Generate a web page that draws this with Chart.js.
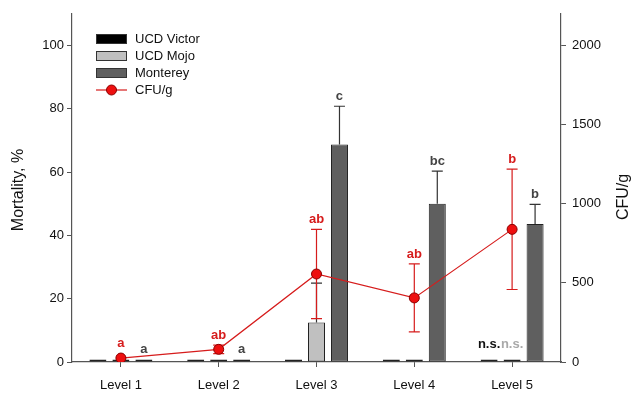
<!DOCTYPE html>
<html>
<head>
<meta charset="utf-8">
<script src="https://cdn.jsdelivr.net/npm/chart.js@4/dist/chart.umd.min.js"></script>
<style>
  html, body { margin: 0; padding: 0; background: #fff; }
  #wrap { width: 632px; height: 405px; }
</style>
</head>
<body>
<div id="wrap"><canvas id="c" width="632" height="405"></canvas></div>
<script>
// Mortality (%) per cultivar and CFU/g per inoculum level
const levels = ['Level 1', 'Level 2', 'Level 3', 'Level 4', 'Level 5'];
const victor = [0.8, 0.8, 0.8, 0.8, 0.8];
const victorErr = [0, 0, 0, 0, 0];
const mojo = [0.8, 0.8, 12.5, 0.8, 0.8];
const mojoErr = [0, 0, 12.4, 0, 0];
const monterey = [0.8, 0.8, 68.7, 50.0, 43.6];
const montereyErr = [0, 0, 12.1, 10.3, 6.2];
const cfu = [25, 80, 556, 405, 838];
const cfuErr = [0, 27, 282, 215, 380];

// significance letters
const cfuLetters = ['a', 'ab', 'ab', 'ab', 'b'];
const montereyLetters = ['a', 'a', 'c', 'bc', 'b'];
const victorLetters = ['', '', '', '', 'n.s.'];
const mojoLetters = ['', '', '', '', 'n.s.'];

const leftTicks = [0, 20, 40, 60, 80, 100];
const rightTicks = [0, 500, 1000, 1500, 2000];

const FONT = '"Liberation Sans", Arial, Helvetica, sans-serif';
const AXIS = '#555555';
const RED = '#d61c1c';

const seriesStyle = [
  { label: 'UCD Victor', fill: '#000000' },
  { label: 'UCD Mojo', fill: '#c0c0c0' },
  { label: 'Monterey', fill: '#5f5f5f' }
];

// vertical error bar from y0 to y1 (pixels) with a cap at y1
function errorBar(ctx, x, y0, y1, color, capHalf) {
  ctx.save();
  ctx.strokeStyle = color;
  ctx.lineWidth = 1.2;
  ctx.beginPath();
  ctx.moveTo(x, y0); ctx.lineTo(x, y1);
  ctx.moveTo(x - capHalf, y1); ctx.lineTo(x + capHalf, y1);
  ctx.stroke();
  ctx.restore();
}

const decorations = {
  id: 'decorations',
  afterDatasetDraw(chart, args) {
    const ctx = chart.ctx;
    const y = chart.scales.y;
    const i = args.index;
    if (i > 2) return;
    const vals = [victor, mojo, monterey][i];
    const errs = [victorErr, mojoErr, montereyErr][i];
    const meta = chart.getDatasetMeta(i);
    vals.forEach((v, j) => {
      if (errs[j] > 0) {
        errorBar(ctx, meta.data[j].x, y.getPixelForValue(v), y.getPixelForValue(v + errs[j]), '#333333', 5.5);
      }
    });
  },
  beforeDatasetDraw(chart, args) {
    if (args.index !== 3) return;
    const ctx = chart.ctx;
    const y1 = chart.scales.y1;
    const meta = chart.getDatasetMeta(3);
    cfu.forEach((v, j) => {
      if (cfuErr[j] > 0) {
        const x = meta.data[j].x;
        const mid = y1.getPixelForValue(v);
        errorBar(ctx, x, mid, y1.getPixelForValue(v + cfuErr[j]), RED, 5.5);
        errorBar(ctx, x, mid, y1.getPixelForValue(v - cfuErr[j]), RED, 5.5);
      }
    });
  },
  afterDraw(chart) {
    const ctx = chart.ctx;
    const y = chart.scales.y;
    const y1 = chart.scales.y1;
    ctx.save();
    ctx.textAlign = 'center';
    ctx.textBaseline = 'alphabetic';
    ctx.font = 'bold 13px ' + FONT;

    // letters over the CFU/g points
    const lineMeta = chart.getDatasetMeta(3);
    ctx.fillStyle = RED;
    cfuLetters.forEach((t, j) => {
      const x = lineMeta.data[j].x;
      const top = cfuErr[j] > 0 ? y1.getPixelForValue(cfu[j] + cfuErr[j]) : y1.getPixelForValue(cfu[j]) - 5;
      ctx.fillText(t, x, top - 6);
    });

    // letters over the bars
    const barLetters = [
      [victorLetters, victor, victorErr, '#111111', 0, 11],
      [mojoLetters, mojo, mojoErr, '#a9a9a9', 1, 11],
      [montereyLetters, monterey, montereyErr, '#444444', 2, 6]
    ];
    barLetters.forEach(([letters, vals, errs, color, di, gap]) => {
      const meta = chart.getDatasetMeta(di);
      ctx.fillStyle = color;
      letters.forEach((t, j) => {
        if (!t) return;
        const top = y.getPixelForValue(vals[j] + errs[j]);
        ctx.fillText(t, meta.data[j].x, top - gap);
      });
    });

    // axis titles
    ctx.font = '16px ' + FONT;
    ctx.fillStyle = '#111111';
    ctx.textBaseline = 'middle';
    ctx.save();
    ctx.translate(19, 190);
    ctx.rotate(-Math.PI / 2);
    ctx.fillText('Mortality, %', 0, 0);
    ctx.restore();
    ctx.save();
    ctx.translate(624, 197);
    ctx.rotate(-Math.PI / 2);
    ctx.fillText('CFU/g', 0, 0);
    ctx.restore();

    // legend
    ctx.font = '13px ' + FONT;
    ctx.textAlign = 'left';
    ctx.textBaseline = 'middle';
    const lx = 96, lw = 31, rows = [39, 56, 73, 90];
    seriesStyle.forEach((s, k) => {
      ctx.fillStyle = s.fill;
      ctx.fillRect(lx, rows[k] - 5, lw, 10);
      ctx.strokeStyle = '#333333';
      ctx.lineWidth = 1;
      ctx.strokeRect(lx + 0.5, rows[k] - 4.5, lw - 1, 9);
      ctx.fillStyle = '#111111';
      ctx.fillText(s.label, 135, rows[k]);
    });
    ctx.strokeStyle = RED;
    ctx.lineWidth = 1.2;
    ctx.beginPath();
    ctx.moveTo(lx, rows[3]); ctx.lineTo(lx + lw, rows[3]);
    ctx.stroke();
    ctx.beginPath();
    ctx.arc(lx + lw / 2, rows[3], 5, 0, Math.PI * 2);
    ctx.fillStyle = '#ee0f0f';
    ctx.fill();
    ctx.strokeStyle = '#8a0000';
    ctx.lineWidth = 1;
    ctx.stroke();
    ctx.fillStyle = '#111111';
    ctx.fillText('CFU/g', 135, rows[3]);
    ctx.restore();
  }
};

const barCommon = {
  type: 'bar',
  yAxisID: 'y',
  borderColor: '#222222',
  borderWidth: 1,
  borderSkipped: false,
  categoryPercentage: 0.705,
  barPercentage: 0.74,
  order: 1
};

new Chart(document.getElementById('c'), {
  type: 'bar',
  data: {
    labels: levels,
    datasets: [
      Object.assign({}, barCommon, { label: 'UCD Victor', data: victor, backgroundColor: '#000000' }),
      Object.assign({}, barCommon, { label: 'UCD Mojo', data: mojo, backgroundColor: '#c0c0c0' }),
      Object.assign({}, barCommon, { label: 'Monterey', data: monterey, backgroundColor: '#5f5f5f' }),
      {
        type: 'line',
        label: 'CFU/g',
        data: cfu,
        yAxisID: 'y1',
        borderColor: RED,
        borderWidth: 1.2,
        pointRadius: 5,
        pointBackgroundColor: '#ee0f0f',
        pointBorderColor: '#8a0000',
        pointBorderWidth: 1,
        tension: 0,
        order: 0
      }
    ]
  },
  options: {
    responsive: false,
    animation: false,
    events: [],
    layout: { padding: { top: 12, left: 0, right: 0, bottom: 0 } },
    plugins: { legend: { display: false }, tooltip: { enabled: false }, title: { display: false } },
    scales: {
      x: {
        offset: true,
        grid: { display: true, drawOnChartArea: false, offset: false, tickLength: 5, color: AXIS, tickColor: AXIS },
        border: { display: true, color: AXIS, width: 1.2 },
        ticks: { font: { family: FONT, size: 13 }, color: '#111111', padding: 11, maxRotation: 0 },
        afterFit(s) { s.height = 43; }
      },
      y: {
        position: 'left',
        min: 0,
        max: 110,
        grid: { display: true, drawOnChartArea: false, tickLength: 5, color: AXIS, tickColor: AXIS },
        border: { display: true, color: AXIS, width: 1.2 },
        ticks: { font: { family: FONT, size: 13 }, color: '#111111', padding: 3, callback: v => String(v) },
        afterBuildTicks(s) { s.ticks = leftTicks.map(v => ({ value: v })); },
        afterFit(s) { s.width = 72; }
      },
      y1: {
        position: 'right',
        min: 0,
        max: 2200,
        grid: { display: true, drawOnChartArea: false, tickLength: 5, color: AXIS, tickColor: AXIS },
        border: { display: true, color: AXIS, width: 1.2 },
        ticks: { font: { family: FONT, size: 13 }, color: '#111111', padding: 6, callback: v => String(v) },
        afterBuildTicks(s) { s.ticks = rightTicks.map(v => ({ value: v })); },
        afterFit(s) { s.width = 71; }
      }
    }
  },
  plugins: [decorations]
});
</script>
</body>
</html>
